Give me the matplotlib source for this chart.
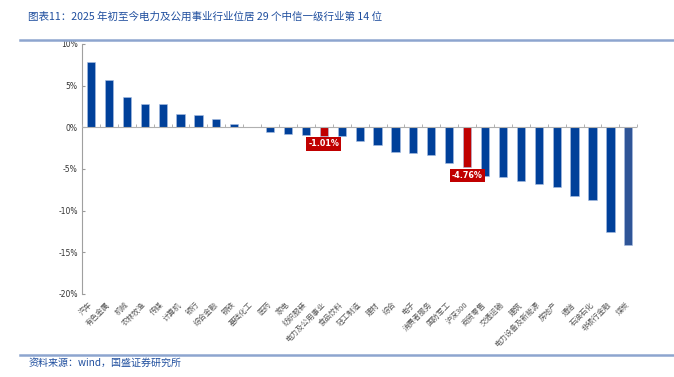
import matplotlib.pyplot as plt
from matplotlib.lines import Line2D
import numpy as np

plt.rcParams['font.family'] = ['Noto Sans CJK SC', 'DejaVu Sans']

## Data
industries = ['汽车', '有色金属', '机械', '农林牧渔', '传媒', '计算机', '银行', '综合金融',
              '钢铁', '基础化工', '医药', '家电', '纺织服装', '电力及公用事业', '食品饮料',
              '轻工制造', '建材', '综合', '电子', '消费者服务', '国防军工', '沪深300',
              '商贸零售', '交通运输', '建筑', '电力设备及新能源', '房地产', '通信',
              '石油石化', '非银行金融', '煤炭']
returns = [7.8, 5.7, 3.6, 2.8, 2.75, 1.65, 1.5, 0.95, 0.42, 0.08, -0.55, -0.8, -0.9,
           -1.01, -1.07, -1.6, -2.1, -3.0, -3.13, -3.33, -4.32, -4.76, -5.85, -5.93,
           -6.45, -6.78, -7.2, -8.25, -8.7, -12.6, -14.1]
highlight = ['电力及公用事业', '沪深300']
yticks = [10, 5, 0, -5, -10, -15, -20]

title = '图表11：2025 年初至今电力及公用事业行业位居 29 个中信一级行业第 14 位'
source = '资料来源：wind，国盛证券研究所'

## Colors
blue = '#00409A'
red = '#C00000'
last_blue = '#2F5597'

colors = []
for i, name in enumerate(industries):
    if name in highlight:
        colors.append(red)
    elif i == len(industries) - 1:
        colors.append(last_blue)
    else:
        colors.append(blue)

x = np.arange(len(industries))

fig = plt.figure(figsize=(6.74, 3.77), dpi=100)
ax = fig.add_axes([0.1217, 0.2202, 0.8238, 0.6631])

ax.bar(x, returns, width=0.46, color=colors, edgecolor='#A9BEE3', linewidth=0.4, zorder=3)

# data labels for highlighted bars
for i, name in enumerate(industries):
    if name in highlight:
        ax.text(x[i], returns[i] - 0.45, f'{returns[i]:.2f}%', ha='center', va='top',
                fontsize=5.8, color='white', fontweight='bold', family='DejaVu Sans',
                bbox=dict(boxstyle='square,pad=0.25', facecolor=red, edgecolor='none'),
                zorder=5)

ax.set_xlim(-0.5, len(industries) - 0.5)
ax.set_ylim(-20, 10)
ax.set_yticks(yticks)
ax.set_yticklabels([f'{t}%' for t in yticks], family='DejaVu Sans', fontsize=5.5,
                   color='#333333')
ax.tick_params(axis='y', direction='in', length=2, color='#999999', pad=3)

ax.set_xticks(x)
ax.set_xticklabels(industries, rotation=45, ha='right', va='center',
                   rotation_mode='anchor', fontsize=5.4, color='#595959')
ax.tick_params(axis='x', length=0, pad=7)

for s in ['top', 'right', 'bottom']:
    ax.spines[s].set_visible(False)
ax.spines['left'].set_color('#A0A0A0')
ax.spines['left'].set_linewidth(0.8)

# zero line with small category dividers
ax.axhline(0, color='#B0B0B0', lw=0.8, zorder=4)
bounds = np.arange(len(industries) + 1) - 0.5
ax.plot(bounds, np.zeros_like(bounds), ls='none', marker=2, ms=2.5,
        color='#B0B0B0', mew=0.7, zorder=4, clip_on=False)

## Title / footer
fig.text(0.042, 0.955, title, fontsize=7.6, style='italic', color='#1F4E9E',
         va='center', ha='left')
fig.add_artist(Line2D([0.03, 1.0], [0.894, 0.894], color='#8DA5CF', lw=1.8,
                      transform=fig.transFigure))
fig.add_artist(Line2D([0.03, 1.0], [0.058, 0.058], color='#8DA5CF', lw=1.8,
                      transform=fig.transFigure))
fig.text(0.042, 0.038, source, fontsize=7.2, style='italic', color='#1F4E9E',
         va='center', ha='left')

plt.savefig('out.png', dpi=100)
